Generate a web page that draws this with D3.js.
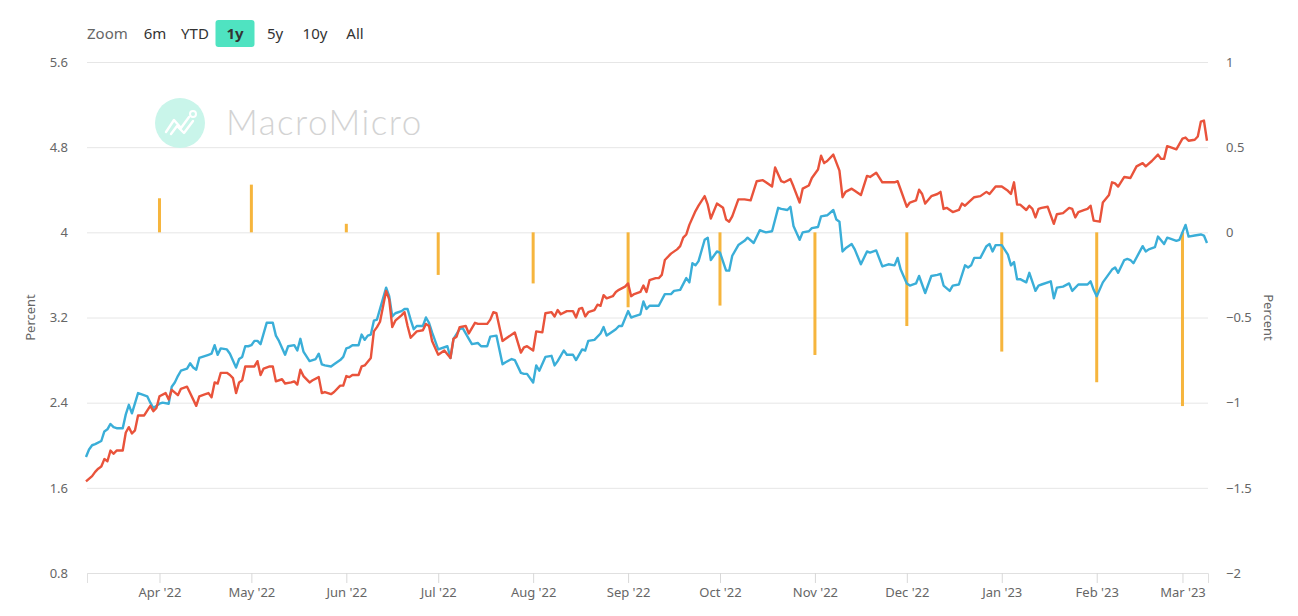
<!DOCTYPE html>
<html><head><meta charset="utf-8">
<script src="https://cdn.jsdelivr.net/npm/d3@7"></script>
<style>
body{margin:0;background:#fff;}
svg{display:block;font-family:"Noto Sans",sans-serif;}
</style>
</head><body>
<svg id="chart" width="1298" height="616"></svg>
<script>
// ---------------- data ----------------
const leftTicks = [0.8, 1.6, 2.4, 3.2, 4, 4.8, 5.6];
const rightTicks = [-2, -1.5, -1, -0.5, 0, 0.5, 1];
const zoomLabel = "Zoom";
const zoomButtons = ["6m", "YTD", "1y", "5y", "10y", "All"];
const activeButton = "1y";
const axisTitle = "Percent";

const spreadMonths = ["2022-04-01","2022-05-01","2022-06-01","2022-07-01","2022-08-01","2022-09-01",
  "2022-10-01","2022-11-01","2022-12-01","2023-01-01","2023-02-01","2023-03-01"];
const spreadValues = [0.20, 0.28, 0.05, -0.25, -0.30, -0.44, -0.43, -0.72, -0.55, -0.70, -0.88, -1.02];

const yield10y = [
["2022-03-08",1.89],["2022-03-09",1.96],["2022-03-10",2.00],["2022-03-11",2.01],["2022-03-13",2.04],["2022-03-14",2.13],
["2022-03-15",2.15],["2022-03-16",2.20],["2022-03-17",2.17],["2022-03-18",2.16],["2022-03-20",2.16],["2022-03-21",2.29],
["2022-03-22",2.38],["2022-03-23",2.30],["2022-03-25",2.49],["2022-03-26",2.48],["2022-03-28",2.46],["2022-03-29",2.40],
["2022-03-30",2.35],["2022-04-01",2.39],["2022-04-02",2.40],["2022-04-04",2.39],["2022-04-05",2.55],["2022-04-06",2.59],
["2022-04-07",2.65],["2022-04-08",2.70],["2022-04-10",2.72],["2022-04-11",2.77],["2022-04-12",2.73],["2022-04-13",2.71],
["2022-04-14",2.82],["2022-04-15",2.83],["2022-04-17",2.85],["2022-04-18",2.86],["2022-04-19",2.94],["2022-04-20",2.85],
["2022-04-21",2.91],["2022-04-23",2.90],["2022-04-24",2.86],["2022-04-26",2.73],["2022-04-27",2.81],["2022-04-28",2.83],
["2022-04-29",2.93],["2022-04-30",2.93],["2022-05-01",2.94],["2022-05-02",2.98],["2022-05-03",2.98],["2022-05-04",2.95],
["2022-05-06",3.15],["2022-05-08",3.15],["2022-05-09",3.03],["2022-05-10",2.98],["2022-05-12",2.85],["2022-05-13",2.93],
["2022-05-15",2.94],["2022-05-16",2.89],["2022-05-17",3.00],["2022-05-18",2.88],["2022-05-20",2.79],["2022-05-22",2.81],
["2022-05-23",2.86],["2022-05-24",2.76],["2022-05-25",2.75],["2022-05-27",2.74],["2022-05-28",2.76],["2022-05-30",2.80],
["2022-05-31",2.83],["2022-06-01",2.91],["2022-06-02",2.92],["2022-06-03",2.94],["2022-06-05",2.94],["2022-06-06",3.04],
["2022-06-07",2.99],["2022-06-08",3.03],["2022-06-09",3.04],["2022-06-10",3.17],["2022-06-11",3.18],["2022-06-14",3.48],
["2022-06-15",3.40],["2022-06-16",3.21],["2022-06-17",3.24],["2022-06-19",3.26],["2022-06-20",3.28],["2022-06-21",3.28],
["2022-06-22",3.18],["2022-06-23",3.09],["2022-06-24",3.12],["2022-06-26",3.12],["2022-06-27",3.20],["2022-06-28",3.15],
["2022-06-29",3.06],["2022-07-01",2.90],["2022-07-04",2.93],["2022-07-05",2.82],["2022-07-06",3.00],["2022-07-08",3.09],
["2022-07-09",3.10],["2022-07-11",3.00],["2022-07-12",2.95],["2022-07-14",2.96],["2022-07-15",2.93],["2022-07-17",2.93],
["2022-07-18",3.02],["2022-07-20",3.03],["2022-07-22",2.76],["2022-07-23",2.78],["2022-07-25",2.81],["2022-07-26",2.80],
["2022-07-28",2.68],["2022-07-29",2.67],["2022-07-30",2.67],["2022-08-01",2.59],["2022-08-02",2.75],["2022-08-03",2.70],
["2022-08-05",2.83],["2022-08-07",2.84],["2022-08-08",2.75],["2022-08-09",2.79],["2022-08-11",2.89],["2022-08-12",2.85],
["2022-08-14",2.85],["2022-08-15",2.80],["2022-08-17",2.90],["2022-08-18",2.89],["2022-08-19",2.98],["2022-08-21",2.99],
["2022-08-23",3.05],["2022-08-24",3.11],["2022-08-25",3.03],["2022-08-26",3.05],["2022-08-28",3.09],["2022-08-29",3.12],
["2022-08-30",3.12],["2022-09-01",3.26],["2022-09-02",3.20],["2022-09-03",3.21],["2022-09-05",3.23],["2022-09-06",3.35],
["2022-09-07",3.28],["2022-09-08",3.31],["2022-09-09",3.31],["2022-09-11",3.31],["2022-09-13",3.42],["2022-09-15",3.42],
["2022-09-16",3.45],["2022-09-18",3.46],["2022-09-20",3.57],["2022-09-21",3.53],["2022-09-22",3.71],["2022-09-23",3.69],
["2022-09-24",3.73],["2022-09-26",3.93],["2022-09-27",3.95],["2022-09-28",3.74],["2022-09-30",3.82],["2022-10-01",3.81],
["2022-10-03",3.64],["2022-10-04",3.64],["2022-10-05",3.78],["2022-10-07",3.88],["2022-10-09",3.92],["2022-10-10",3.95],
["2022-10-12",3.90],["2022-10-14",4.02],["2022-10-15",4.01],["2022-10-16",4.00],["2022-10-18",4.01],["2022-10-20",4.23],
["2022-10-21",4.22],["2022-10-23",4.21],["2022-10-24",4.24],["2022-10-25",4.06],["2022-10-27",3.93],["2022-10-28",4.00],
["2022-10-30",4.01],["2022-10-31",4.04],["2022-11-02",4.05],["2022-11-03",4.15],["2022-11-05",4.16],["2022-11-07",4.21],
["2022-11-08",4.12],["2022-11-09",4.10],["2022-11-10",3.82],["2022-11-11",3.85],["2022-11-13",3.89],["2022-11-14",3.84],
["2022-11-16",3.70],["2022-11-18",3.82],["2022-11-19",3.81],["2022-11-21",3.83],["2022-11-23",3.68],["2022-11-25",3.70],
["2022-11-27",3.69],["2022-11-28",3.76],["2022-11-29",3.65],["2022-12-01",3.52],["2022-12-02",3.50],["2022-12-04",3.52],
["2022-12-05",3.59],["2022-12-07",3.43],["2022-12-09",3.59],["2022-12-11",3.60],["2022-12-12",3.61],["2022-12-13",3.50],
["2022-12-15",3.45],["2022-12-16",3.50],["2022-12-18",3.51],["2022-12-20",3.69],["2022-12-21",3.67],["2022-12-22",3.69],
["2022-12-23",3.76],["2022-12-25",3.76],["2022-12-27",3.87],["2022-12-28",3.89],["2022-12-29",3.82],["2022-12-30",3.88],
["2023-01-01",3.88],["2023-01-03",3.79],["2023-01-04",3.69],["2023-01-05",3.72],["2023-01-06",3.56],["2023-01-07",3.56],
["2023-01-09",3.53],["2023-01-10",3.62],["2023-01-12",3.45],["2023-01-13",3.50],["2023-01-14",3.51],["2023-01-17",3.54],
["2023-01-18",3.38],["2023-01-19",3.48],["2023-01-21",3.49],["2023-01-23",3.52],["2023-01-24",3.45],["2023-01-26",3.51],
["2023-01-27",3.51],["2023-01-29",3.51],["2023-01-30",3.54],["2023-01-31",3.46],["2023-02-01",3.40],["2023-02-03",3.53],
["2023-02-04",3.57],["2023-02-06",3.65],["2023-02-07",3.67],["2023-02-08",3.62],["2023-02-10",3.74],["2023-02-11",3.75],
["2023-02-12",3.74],["2023-02-13",3.71],["2023-02-16",3.87],["2023-02-17",3.82],["2023-02-18",3.84],["2023-02-20",3.86],
["2023-02-21",3.96],["2023-02-23",3.89],["2023-02-24",3.95],["2023-02-25",3.94],["2023-02-27",3.92],["2023-02-28",3.93],
["2023-03-02",4.07],["2023-03-03",3.96],["2023-03-05",3.97],["2023-03-07",3.98],["2023-03-08",3.97],["2023-03-09",3.90]
];

const yield2y = [
["2022-03-08",1.66],["2022-03-10",1.71],["2022-03-11",1.75],["2022-03-12",1.78],["2022-03-13",1.80],["2022-03-14",1.87],
["2022-03-15",1.85],["2022-03-16",1.95],["2022-03-17",1.92],["2022-03-18",1.95],["2022-03-20",1.95],["2022-03-21",2.12],
["2022-03-22",2.17],["2022-03-23",2.11],["2022-03-24",2.14],["2022-03-25",2.28],["2022-03-27",2.28],["2022-03-29",2.37],
["2022-03-30",2.32],["2022-03-31",2.35],["2022-04-01",2.46],["2022-04-03",2.49],["2022-04-04",2.43],["2022-04-05",2.52],
["2022-04-07",2.47],["2022-04-08",2.53],["2022-04-10",2.55],["2022-04-11",2.49],["2022-04-13",2.37],["2022-04-14",2.46],
["2022-04-16",2.48],["2022-04-17",2.49],["2022-04-18",2.45],["2022-04-19",2.59],["2022-04-20",2.58],["2022-04-21",2.68],
["2022-04-23",2.68],["2022-04-24",2.66],["2022-04-25",2.63],["2022-04-26",2.49],["2022-04-27",2.59],["2022-04-28",2.61],
["2022-04-29",2.74],["2022-05-01",2.74],["2022-05-02",2.74],["2022-05-03",2.79],["2022-05-04",2.66],["2022-05-05",2.72],
["2022-05-07",2.74],["2022-05-08",2.74],["2022-05-09",2.60],["2022-05-11",2.62],["2022-05-12",2.58],["2022-05-14",2.59],
["2022-05-15",2.60],["2022-05-16",2.57],["2022-05-17",2.71],["2022-05-18",2.65],["2022-05-20",2.59],["2022-05-21",2.61],
["2022-05-23",2.64],["2022-05-24",2.49],["2022-05-25",2.50],["2022-05-27",2.48],["2022-05-28",2.50],["2022-05-30",2.56],
["2022-05-31",2.56],["2022-06-01",2.65],["2022-06-02",2.64],["2022-06-03",2.66],["2022-06-05",2.66],["2022-06-06",2.74],
["2022-06-07",2.75],["2022-06-09",2.82],["2022-06-10",3.07],["2022-06-11",3.11],["2022-06-12",3.16],["2022-06-14",3.45],
["2022-06-15",3.37],["2022-06-16",3.11],["2022-06-17",3.17],["2022-06-19",3.22],["2022-06-20",3.25],["2022-06-21",3.12],
["2022-06-22",3.01],["2022-06-24",3.07],["2022-06-26",3.08],["2022-06-27",3.14],["2022-06-28",3.12],["2022-06-29",2.98],
["2022-07-01",2.85],["2022-07-03",2.89],["2022-07-05",2.82],["2022-07-06",3.00],["2022-07-07",3.02],["2022-07-08",3.11],
["2022-07-10",3.12],["2022-07-11",3.05],["2022-07-13",3.15],["2022-07-14",3.14],["2022-07-17",3.14],["2022-07-18",3.18],
["2022-07-19",3.25],["2022-07-20",3.24],["2022-07-22",2.98],["2022-07-23",3.00],["2022-07-26",3.06],["2022-07-28",2.87],
["2022-07-29",2.92],["2022-07-30",2.93],["2022-08-01",2.89],["2022-08-02",3.07],["2022-08-04",3.06],["2022-08-05",3.24],
["2022-08-07",3.25],["2022-08-08",3.21],["2022-08-09",3.27],["2022-08-10",3.23],["2022-08-12",3.26],["2022-08-14",3.26],
["2022-08-15",3.20],["2022-08-16",3.28],["2022-08-17",3.29],["2022-08-18",3.21],["2022-08-19",3.25],["2022-08-21",3.27],
["2022-08-22",3.32],["2022-08-23",3.31],["2022-08-24",3.41],["2022-08-25",3.38],["2022-08-27",3.40],["2022-08-28",3.44],
["2022-08-29",3.46],["2022-08-31",3.49],["2022-09-01",3.52],["2022-09-02",3.40],["2022-09-03",3.42],["2022-09-05",3.44],
["2022-09-06",3.50],["2022-09-07",3.44],["2022-09-08",3.55],["2022-09-10",3.57],["2022-09-11",3.57],["2022-09-12",3.60],
["2022-09-13",3.74],["2022-09-15",3.80],["2022-09-17",3.84],["2022-09-18",3.87],["2022-09-19",3.95],["2022-09-20",3.98],
["2022-09-21",4.07],["2022-09-23",4.20],["2022-09-24",4.25],["2022-09-26",4.34],["2022-09-27",4.26],["2022-09-28",4.13],
["2022-09-30",4.27],["2022-10-02",4.23],["2022-10-03",4.12],["2022-10-04",4.10],["2022-10-05",4.15],["2022-10-07",4.31],
["2022-10-09",4.31],["2022-10-11",4.30],["2022-10-13",4.48],["2022-10-15",4.49],["2022-10-16",4.47],["2022-10-18",4.43],
["2022-10-19",4.61],["2022-10-21",4.48],["2022-10-22",4.47],["2022-10-24",4.50],["2022-10-25",4.43],["2022-10-27",4.28],
["2022-10-28",4.41],["2022-10-30",4.44],["2022-10-31",4.51],["2022-11-02",4.59],["2022-11-03",4.72],["2022-11-04",4.65],
["2022-11-05",4.67],["2022-11-07",4.73],["2022-11-09",4.58],["2022-11-10",4.33],["2022-11-11",4.38],["2022-11-13",4.41],
["2022-11-14",4.39],["2022-11-16",4.35],["2022-11-18",4.53],["2022-11-19",4.52],["2022-11-21",4.56],["2022-11-23",4.47],
["2022-11-25",4.47],["2022-11-27",4.47],["2022-11-28",4.48],["2022-11-29",4.40],["2022-12-01",4.24],["2022-12-02",4.28],
["2022-12-04",4.30],["2022-12-05",4.40],["2022-12-06",4.36],["2022-12-07",4.27],["2022-12-09",4.34],["2022-12-11",4.36],
["2022-12-12",4.38],["2022-12-13",4.22],["2022-12-14",4.23],["2022-12-16",4.19],["2022-12-18",4.21],["2022-12-19",4.27],
["2022-12-20",4.25],["2022-12-23",4.33],["2022-12-25",4.34],["2022-12-27",4.38],["2022-12-28",4.36],["2022-12-30",4.43],
["2023-01-01",4.43],["2023-01-03",4.39],["2023-01-04",4.36],["2023-01-05",4.47],["2023-01-06",4.26],["2023-01-07",4.26],
["2023-01-09",4.21],["2023-01-10",4.25],["2023-01-11",4.22],["2023-01-12",4.14],["2023-01-13",4.22],["2023-01-14",4.23],
["2023-01-16",4.24],["2023-01-18",4.08],["2023-01-19",4.17],["2023-01-21",4.18],["2023-01-23",4.23],["2023-01-24",4.22],
["2023-01-25",4.14],["2023-01-26",4.19],["2023-01-28",4.21],["2023-01-29",4.22],["2023-01-30",4.25],["2023-01-31",4.11],
["2023-02-02",4.10],["2023-02-03",4.28],["2023-02-05",4.35],["2023-02-06",4.47],["2023-02-07",4.46],["2023-02-08",4.43],
["2023-02-10",4.52],["2023-02-12",4.51],["2023-02-14",4.62],["2023-02-16",4.65],["2023-02-17",4.62],["2023-02-19",4.67],
["2023-02-21",4.73],["2023-02-22",4.69],["2023-02-23",4.69],["2023-02-24",4.81],["2023-02-25",4.80],["2023-02-27",4.78],
["2023-03-01",4.88],["2023-03-02",4.89],["2023-03-03",4.86],["2023-03-05",4.87],["2023-03-06",4.90],["2023-03-07",5.04],
["2023-03-08",5.05],["2023-03-09",4.86]
];

const colors = {red: "#e9533b", blue: "#3aaed8", bar: "#f6b53d", grid: "#e6e6e6", label: "#666666"};

// ---------------- chart ----------------
const parse = d3.timeParse("%Y-%m-%d");
const svg = d3.select("#chart");
const L = 87, R = 1208, T = 62, B = 573;

const x = d3.scaleTime().domain([new Date(2022, 2, 8, 8), new Date(2023, 2, 9, 8)]).range([L, R]);
const yL = d3.scaleLinear().domain([0.8, 5.6]).range([B, T]);
const yR = d3.scaleLinear().domain([-2, 1]).range([B, T]);

// zoom buttons
const zg = svg.append("g").attr("font-size", 15);
zg.append("text").attr("x", 87).attr("y", 39).attr("fill", "#666").text(zoomLabel);
const btnX = d3.scalePoint().domain(zoomButtons).range([155, 355]);
zg.selectAll("rect.btn").data(zoomButtons.filter(b => b === activeButton)).join("rect")
  .attr("x", d => btnX(d) - 19.5).attr("y", 20).attr("width", 39).attr("height", 27).attr("rx", 3)
  .attr("fill", "#4fe3c1");
zg.selectAll("text.btn").data(zoomButtons).join("text").attr("class", "btn")
  .attr("x", d => btnX(d)).attr("y", 39).attr("text-anchor", "middle")
  .attr("fill", "#333").attr("font-weight", d => d === activeButton ? 700 : 400).text(d => d);

// gridlines
svg.append("g").attr("transform", `translate(${L},0)`)
  .call(d3.axisLeft(yL).tickValues(leftTicks).tickSize(-(R - L)).tickFormat(""))
  .call(g => g.select(".domain").remove())
  .call(g => g.selectAll("line").attr("stroke", colors.grid));

// watermark logo
const logo = svg.append("g");
logo.append("circle").attr("cx", 180).attr("cy", 123).attr("r", 25).attr("fill", "#c9f5ea");
logo.append("path").attr("d", "M166,132 L174,120 L181,128 L189,117 M171,134 L177,126 L184,133 L193,121")
  .attr("fill", "none").attr("stroke", "#fff").attr("stroke-width", 2.4).attr("stroke-linejoin", "round").attr("stroke-linecap", "round");
logo.append("circle").attr("cx", 193).attr("cy", 114).attr("r", 3).attr("fill", "none").attr("stroke", "#fff").attr("stroke-width", 2);
logo.append("text").attr("x", 226).attr("y", 135).attr("font-size", 35).attr("letter-spacing", 1.5)
  .attr("font-family", "Lato, 'Open Sans', sans-serif")
  .attr("font-weight", 300).attr("fill", "#d3d3d3").text("MacroMicro");

// left axis labels
svg.append("g").attr("transform", `translate(${L},0)`)
  .call(d3.axisLeft(yL).tickValues(leftTicks).tickSize(0).tickPadding(19).tickFormat(d3.format("")))
  .call(g => g.select(".domain").remove())
  .call(g => g.selectAll("text").attr("fill", colors.label).attr("font-size", 13).attr("font-family", "'Noto Sans',sans-serif"));

// right axis labels
svg.append("g").attr("transform", `translate(${R},0)`)
  .call(d3.axisRight(yR).tickValues(rightTicks).tickSize(0).tickPadding(18).tickFormat(d3.format("")))
  .call(g => g.select(".domain").remove())
  .call(g => g.selectAll("text").attr("fill", colors.label).attr("font-size", 13).attr("font-family", "'Noto Sans',sans-serif"));

// x axis
svg.append("g").attr("transform", `translate(0,${B})`)
  .call(d3.axisBottom(x).ticks(d3.timeMonth.every(1)).tickFormat(d3.timeFormat("%b '%y")).tickSize(10).tickPadding(5))
  .call(g => g.select(".domain").attr("stroke", "#e0e0e0"))
  .call(g => g.selectAll(".tick line").attr("stroke", "#d8d8d8"))
  .call(g => g.selectAll("text").attr("fill", colors.label).attr("font-size", 13).attr("font-family", "'Noto Sans',sans-serif"));

// axis titles
svg.append("text").attr("transform", `translate(35,${(T + B) / 2}) rotate(-90)`).attr("text-anchor", "middle")
  .attr("font-size", 13).attr("fill", colors.label).text(axisTitle);
svg.append("text").attr("transform", `translate(1264,${(T + B) / 2}) rotate(90)`).attr("text-anchor", "middle")
  .attr("font-size", 13).attr("fill", colors.label).text(axisTitle);

// spread bars (right axis)
const bars = spreadMonths.map((m, i) => ({date: parse(m), v: spreadValues[i]}));
svg.append("g").selectAll("rect").data(bars).join("rect")
  .attr("x", d => x(d.date) - 1.5).attr("width", 3)
  .attr("y", d => Math.min(yR(d.v), yR(0))).attr("height", d => Math.abs(yR(d.v) - yR(0)))
  .attr("fill", colors.bar);

// lines (left axis)
const line = d3.line().x(d => x(parse(d[0]))).y(d => yL(d[1]));
svg.append("path").datum(yield10y).attr("d", line).attr("fill", "none")
  .attr("stroke", colors.blue).attr("stroke-width", 2.4).attr("stroke-linejoin", "round");
svg.append("path").datum(yield2y).attr("d", line).attr("fill", "none")
  .attr("stroke", colors.red).attr("stroke-width", 2.4).attr("stroke-linejoin", "round");
</script>
</body></html>
